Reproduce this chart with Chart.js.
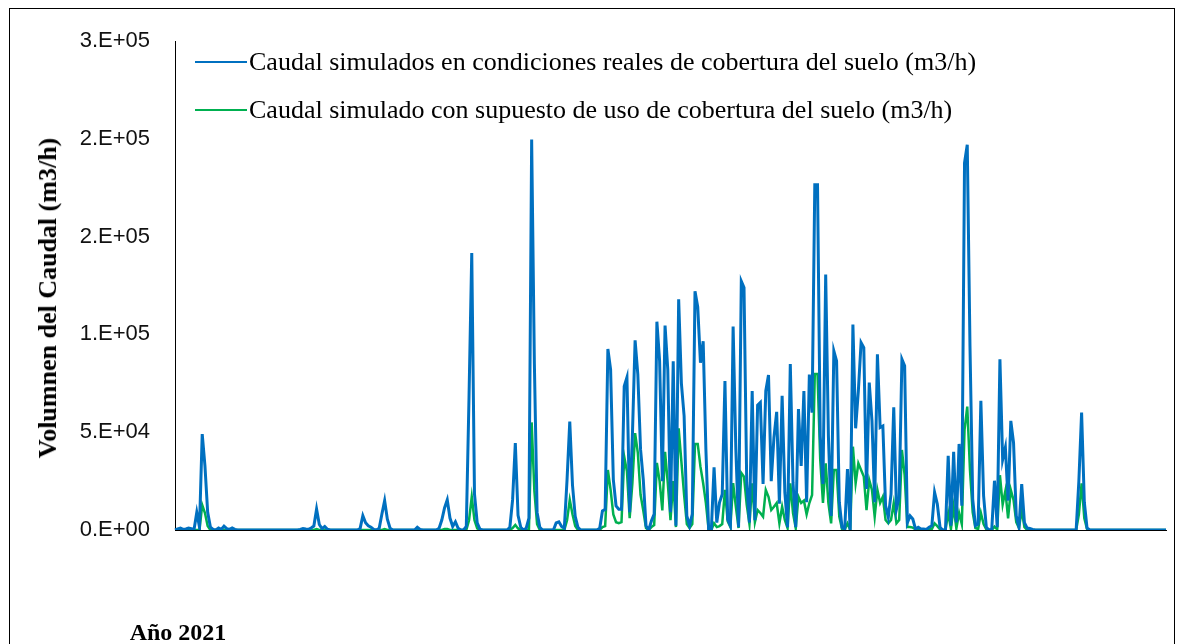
<!DOCTYPE html>
<html>
<head>
<meta charset="utf-8">
<title>Caudal simulado 2021</title>
<script src="https://cdn.jsdelivr.net/npm/chart.js@4.4.1/dist/chart.umd.min.js"></script>
<style>
  html, body { margin: 0; padding: 0; background: #fff; }
  #wrap { position: relative; width: 1183px; height: 644px; overflow: hidden; }
  #frame { position: absolute; left: 9px; top: 8px; width: 1166px; height: 700px; border: 1px solid #000; box-sizing: border-box; }
  canvas { position: absolute; left: 0; top: 0; }
  .leg { position: absolute; left: 195px; height: 30px; display: flex; align-items: center; font-family: "Liberation Serif", "Times New Roman", serif; font-size: 26px; color: #000; white-space: nowrap; }
  .leg i { display: inline-block; width: 52px; height: 2px; margin-right: 2px; }
  #ytitle { position: absolute; left: 48px; top: 298px; transform: translate(-50%, -50%) rotate(-90deg); font-family: "Liberation Serif", serif; font-weight: bold; font-size: 26px; white-space: nowrap; color: #000; }
  #xtitle { position: absolute; left: 178px; top: 632px; transform: translate(-50%, -50%); font-family: "Liberation Serif", serif; font-weight: bold; font-size: 24px; white-space: nowrap; color: #000; }
</style>
</head>
<body>
<div id="wrap">
  <div id="frame"></div>
  <canvas id="chartCaudal" width="1183" height="644"></canvas>
  <div id="legend"></div>
  <div id="ytitle">Volumnen del Caudal (m3/h)</div>
  <div id="xtitle">Año 2021</div>
</div>
<script>
const seriesNames = [
  'Caudal simulados en condiciones reales de cobertura del suelo (m3/h)',
  'Caudal simulado con supuesto de uso de cobertura del suelo (m3/h)'
];
const yTickLabels = ['0.E+00', '5.E+04', '1.E+05', '2.E+05', '2.E+05', '3.E+05'];

// caudal diario, condiciones reales (m3/h)
const caudalReal = [
  0, 500, 1000, 300, 500, 1000, 700, 300, 9000, 1500,
  49000, 32800, 9000, 1500, 300, 0, 1000, 300, 2000, 700,
  300, 1000, 300, 0, 0, 0, 0, 0, 0, 0,
  0, 0, 0, 0, 0, 0, 0, 0, 0, 0,
  0, 0, 0, 0, 0, 0, 300, 800, 500, 300,
  1000, 2000, 10700, 2800, 700, 1800, 400, 0, 0, 0,
  0, 0, 0, 0, 0, 0, 0, 0, 800, 7300,
  3700, 2200, 1400, 300, 0, 900, 8200, 15000, 5500, 900,
  0, 0, 0, 0, 0, 0, 0, 0, 0, 1400,
  300, 0, 0, 0, 0, 0, 0, 900, 5100, 11300,
  15400, 6100, 1800, 4200, 900, 0, 0, 1800, 68200, 141600,
  18500, 3600, 400, 0, 0, 0, 0, 0, 0, 0,
  0, 0, 0, 1400, 15400, 44500, 7500, 1400, 0, 900,
  6100, 199600, 85000, 9000, 1400, 0, 0, 0, 0, 0,
  3600, 4200, 1800, 900, 25600, 55400, 23000, 7000, 1400, 0,
  0, 0, 0, 0, 0, 0, 900, 9800, 10600, 92500,
  82000, 25800, 12300, 10600, 10600, 73500, 78000, 9100, 48000, 97000,
  79500, 41200, 25800, 2200, 0, 4700, 8100, 106500, 86500, 25000,
  104500, 82000, 9100, 86200, 2200, 118000, 75000, 58300, 7200, 2200,
  8100, 122000, 114000, 85500, 96500, 41300, 400, 0, 32000, 3800,
  14000, 18300, 76200, 5500, 2200, 104000, 41300, 1400, 127200, 123900,
  24200, 3800, 71100, 5000, 63800, 65200, 23500, 71100, 79200, 25000,
  47300, 60400, 13500, 68600, 19200, 1400, 84800, 24200, 1400, 61800,
  32700, 71000, 14200, 79500, 60000, 176500, 176500, 48000, 23500, 130600,
  48000, 7200, 91500, 86400, 14200, 1400, 500, 31100, 0, 105100,
  52000, 71100, 95800, 93200, 21000, 75400, 55800, 14200, 89800, 52400,
  53200, 12400, 6500, 18300, 62700, 10700, 16900, 87300, 83900, 3800,
  7200, 5600, 500, 1400, 500, 500, 300, 1400, 2200, 19200,
  13300, 1400, 0, 0, 37900, 2200, 40000, 3800, 44000, 12400,
  187700, 197000, 94000, 15800, 2200, 3100, 66000, 17500, 1400, 0,
  300, 25200, 1400, 87300, 36000, 42200, 15000, 55800, 44700, 7200,
  1400, 23500, 3800, 1000, 800, 300, 0, 0, 0, 0,
  0, 0, 0, 0, 0, 0, 0, 0, 0, 0,
  0, 0, 25200, 60000, 14200, 1000, 0, 0, 0, 0,
  0, 0, 0, 0, 0, 0, 0, 0, 0, 0,
  0, 0, 0, 0, 0, 0, 0, 0, 0, 0,
  0, 0, 0, 0, 0
];

// caudal diario, supuesto de uso de cobertura (m3/h)
const caudalSupuesto = [
  0, 0, 0, 0, 0, 0, 0, 0, 0, 0,
  12800, 8700, 2000, 0, 0, 0, 0, 0, 0, 0,
  0, 0, 0, 0, 0, 0, 0, 0, 0, 0,
  0, 0, 0, 0, 0, 0, 0, 0, 0, 0,
  0, 0, 0, 0, 0, 0, 0, 0, 0, 0,
  0, 0, 500, 0, 0, 0, 0, 0, 0, 0,
  0, 0, 0, 0, 0, 0, 0, 0, 0, 0,
  0, 0, 0, 0, 0, 0, 0, 500, 0, 0,
  0, 0, 0, 0, 0, 0, 0, 0, 0, 0,
  0, 0, 0, 0, 0, 0, 0, 0, 0, 500,
  500, 0, 0, 0, 0, 0, 0, 0, 5000, 17000,
  5000, 800, 0, 0, 0, 0, 0, 0, 0, 0,
  0, 0, 0, 0, 1000, 2600, 800, 0, 0, 0,
  0, 55000, 20000, 3000, 0, 0, 0, 0, 0, 0,
  0, 0, 0, 0, 5000, 15400, 8000, 2000, 0, 0,
  0, 0, 0, 0, 0, 0, 0, 1500, 2000, 30700,
  20500, 8000, 4000, 3500, 4000, 37500, 30000, 6000, 24000, 49500,
  39400, 18000, 10000, 1000, 0, 1500, 2500, 34300, 25000, 10000,
  40000, 24000, 5000, 25000, 1500, 52000, 35000, 18000, 3000, 1000,
  3000, 44000, 44000, 32400, 23900, 13800, 300, 0, 3400, 1500,
  2000, 3000, 20500, 4500, 1500, 24000, 11900, 1000, 29200, 27300,
  12800, 3000, 23900, 4000, 10200, 8700, 6800, 20500, 17000, 10200,
  11900, 13800, 3400, 11900, 5100, 1000, 23900, 8700, 1000, 17000,
  13800, 15000, 8000, 13800, 17900, 79800, 79800, 35800, 13800, 34100,
  13800, 3400, 30700, 30700, 6800, 500, 200, 3400, 0, 42600,
  23900, 34100, 30700, 27300, 10200, 25600, 20500, 6800, 20500, 13800,
  17000, 5100, 3400, 5100, 13800, 3400, 5100, 40900, 28000, 1500,
  1500, 1200, 300, 300, 0, 0, 0, 300, 500, 3400,
  2000, 300, 0, 0, 8700, 500, 11900, 800, 8700, 3000,
  51200, 63100, 30700, 9000, 1000, 500, 8700, 3000, 300, 0,
  0, 1700, 300, 28000, 13000, 20000, 6000, 20500, 15400, 4000,
  1000, 10200, 1500, 0, 0, 0, 0, 0, 0, 0,
  0, 0, 0, 0, 0, 0, 0, 0, 0, 0,
  0, 0, 8000, 23900, 6000, 500, 0, 0, 0, 0,
  0, 0, 0, 0, 0, 0, 0, 0, 0, 0,
  0, 0, 0, 0, 0, 0, 0, 0, 0, 0,
  0, 0, 0, 0, 0
];

// una etiqueta por dia de 2021 (no se muestran)
const dias = caudalReal.map((_, i) => {
  const d = new Date(2021, 0, 1 + i);
  return d.getDate() + '/' + (d.getMonth() + 1);
});

const colors = ['#0070C0', '#00B050'];

const chart = new Chart('chartCaudal', {
  type: 'line',
  data: {
    labels: dias,
    datasets: [{
      label: seriesNames[0],
      data: caudalReal,
      borderColor: colors[0],
      borderWidth: 3,
      pointRadius: 0,
      tension: 0,
      order: 1
    }, {
      label: seriesNames[1],
      data: caudalSupuesto,
      borderColor: colors[1],
      borderWidth: 2.5,
      pointRadius: 0,
      tension: 0,
      order: 2
    }]
  },
  options: {
    responsive: false,
    animation: false,
    devicePixelRatio: 1,
    layout: { padding: { left: 0, top: 41, right: 17, bottom: 114 } },
    plugins: {
      legend: { display: false },
      tooltip: { enabled: false }
    },
    scales: {
      x: {
        offset: false,
        ticks: { display: false },
        grid: { display: false, drawTicks: false },
        border: { display: true, color: '#000', width: 1 },
        afterFit: (s) => { s.height = 0; }
      },
      y: {
        min: 0,
        max: 250000,
        ticks: {
          stepSize: 50000,
          padding: 25,
          color: '#111',
          font: { family: '"Liberation Sans", Arial, sans-serif', size: 22 },
          callback: (v, i) => yTickLabels[i]
        },
        grid: { display: false, drawTicks: false },
        border: { display: true, color: '#000', width: 1 },
        afterFit: (s) => { s.width = 175; }
      }
    }
  }
});

// leyenda dentro del area del grafico
const legend = document.getElementById('legend');
const legTops = [47, 95];
chart.data.datasets.forEach((ds, i) => {
  const item = document.createElement('div');
  item.className = 'leg';
  item.style.top = legTops[i] + 'px';
  const line = document.createElement('i');
  line.style.background = ds.borderColor;
  item.appendChild(line);
  item.appendChild(document.createTextNode(ds.label));
  legend.appendChild(item);
});
</script>
</body>
</html>
